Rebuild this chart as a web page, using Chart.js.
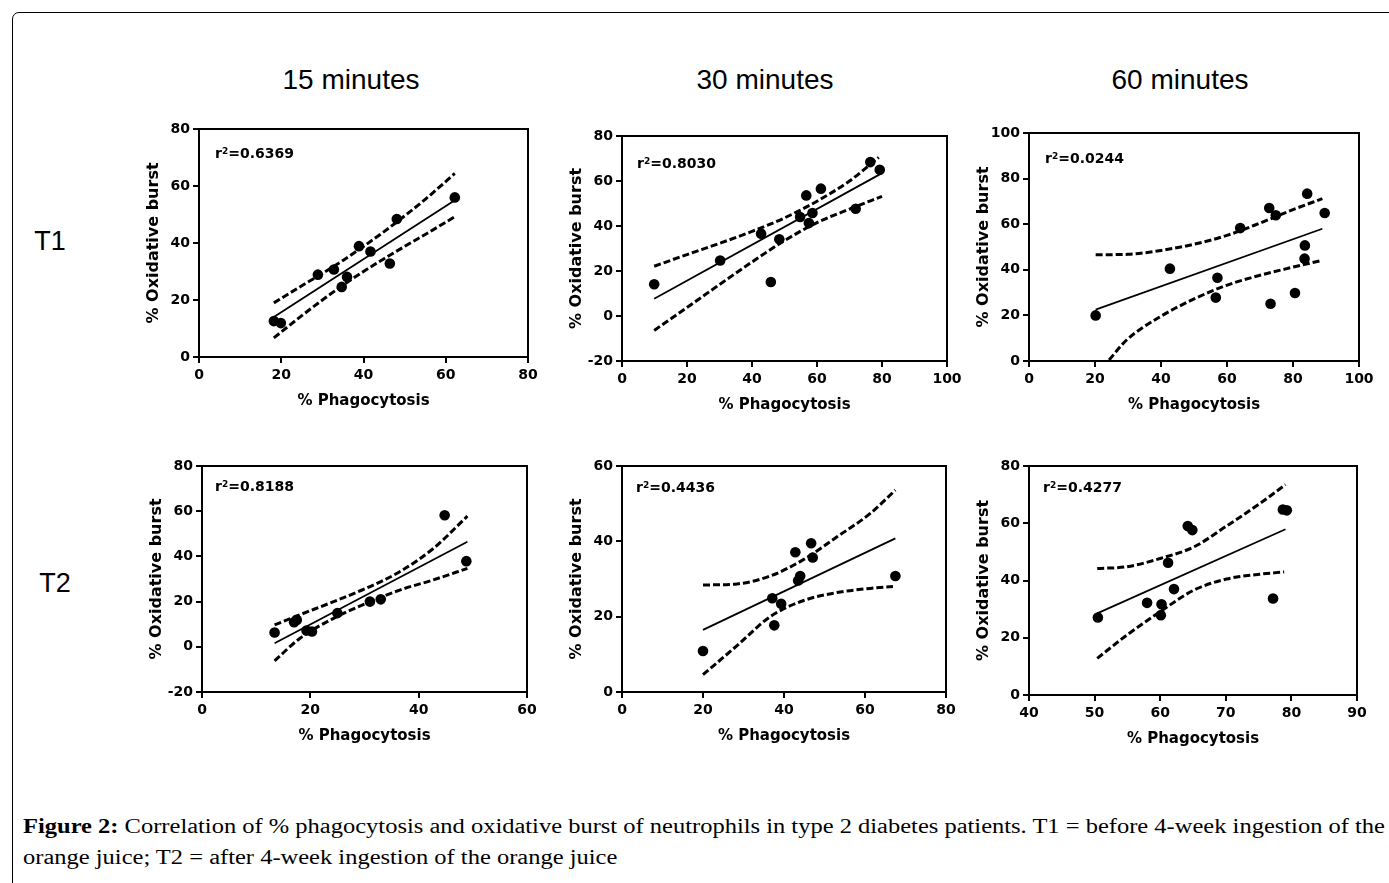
<!DOCTYPE html>
<html>
<head>
<meta charset="utf-8">
<script src="https://cdn.jsdelivr.net/npm/chart.js@4.4.1/dist/chart.umd.min.js"></script>
<style>
html,body{margin:0;padding:0;background:#fff;}
#page{position:relative;width:1389px;height:883px;overflow:hidden;background:#fff;}
#frame{position:absolute;left:12px;top:12px;width:1420px;height:920px;border:1.6px solid #000;border-radius:7px;box-sizing:border-box;}
.hdr{position:absolute;font-family:"Liberation Sans",Arial,sans-serif;font-size:28px;color:#000;transform:translate(-50%,-50%);white-space:nowrap;}
.r2{position:absolute;font-family:"DejaVu Sans",sans-serif;font-weight:bold;font-size:14px;color:#000;transform:translateY(-50%);white-space:nowrap;line-height:17px;}
.r2 sup{font-size:9px;position:relative;top:-2px;vertical-align:top;}
canvas{position:absolute;}
#cap{position:absolute;left:23px;top:811px;font-family:"Liberation Serif","Times New Roman",serif;font-size:20px;line-height:31px;color:#000;transform-origin:0 0;white-space:nowrap;}
#cap b{font-weight:bold;}
</style>
</head>
<body>
<div id="page">
  <div id="frame"></div>
  <div class="hdr" style="left:351px;top:80px;">15 minutes</div>
  <div class="hdr" style="left:765px;top:80px;">30 minutes</div>
  <div class="hdr" style="left:1180px;top:80px;">60 minutes</div>
  <div class="hdr" style="left:50px;top:241px;font-size:27px;">T1</div>
  <div class="hdr" style="left:55px;top:583px;font-size:27px;">T2</div>
  <div id="cap"><span id="cap1"><b>Figure 2:</b> Correlation of % phagocytosis and oxidative burst of neutrophils in type 2 diabetes patients. T1 = before 4-week ingestion of the</span><br><span>orange juice; T2 = after 4-week ingestion of the orange juice</span></div>
</div>
<script>
// ---------- DATA ----------
const columnTitles = ["15 minutes", "30 minutes", "60 minutes"];
const rowTitles = ["T1", "T2"];
const r2Labels = ["0.6369", "0.8030", "0.0244", "0.8188", "0.4436", "0.4277"];

// T1, 15 minutes
const t1m15X = [18.2, 19.9, 28.9, 32.8, 34.7, 36.0, 38.9, 41.7, 46.4, 48.1, 62.2];
const t1m15Y = [12.6, 11.9, 28.9, 30.7, 24.6, 28.1, 38.9, 37.0, 32.8, 48.4, 56.0];
const t1m15FitX = [18.2, 62.2];
const t1m15FitY = [14.0, 55.0];
const t1m15BandX = [18.2, 25, 30, 35, 40, 45, 50, 55, 62.2];
const t1m15UpY = [19.0, 25.0, 29.3, 33.9, 38.8, 44.0, 49.5, 55.3, 64.4];
const t1m15LoY = [6.7, 14.5, 20.0, 25.2, 30.0, 34.5, 38.8, 43.0, 49.2];

// T1, 30 minutes
const t1m30X = [9.9, 30.2, 42.8, 45.8, 48.4, 54.8, 56.7, 57.5, 58.6, 61.2, 71.9, 76.4, 79.3];
const t1m30Y = [14.1, 24.7, 36.6, 15.1, 34.1, 44.0, 53.6, 41.3, 45.8, 56.6, 47.7, 68.4, 65.0];
const t1m30FitX = [9.9, 80.0];
const t1m30FitY = [7.7, 63.5];
const t1m30UpX = [9.9, 20, 30, 40, 50, 60, 70, 79];
const t1m30UpY = [22.1, 27.3, 32.3, 37.6, 43.6, 51.0, 60.0, 70.5];
const t1m30LoX = [9.9, 20, 30, 40, 50, 60, 70, 80];
const t1m30LoY = [-6.4, 3.8, 14.0, 24.0, 33.5, 41.5, 47.5, 53.2];

// T1, 60 minutes
const t1m60X = [20.2, 42.7, 56.6, 57.1, 64.0, 72.8, 74.8, 73.2, 80.6, 83.5, 83.6, 84.3, 89.6];
const t1m60Y = [20.0, 40.5, 27.8, 36.5, 58.3, 67.1, 63.9, 25.1, 29.8, 44.9, 50.7, 73.4, 64.9];
const t1m60FitX = [20.2, 88.9];
const t1m60FitY = [22.5, 58.0];
const t1m60UpX = [20.2, 30, 40, 50, 60, 70, 80, 88.9];
const t1m60UpY = [46.6, 46.8, 48.5, 51.2, 55.1, 60.5, 66.4, 71.2];
const t1m60LoX = [20.2, 24, 29.5, 39.6, 49.7, 59.9, 70, 80.1, 88.9];
const t1m60LoY = [-6.0, 0.0, 9.1, 19.3, 27.0, 33.2, 37.6, 41.2, 44.2];

// T2, 15 minutes
const t2m15X = [13.4, 17.0, 17.5, 19.3, 20.3, 25.0, 31.0, 33.0, 44.8, 48.8];
const t2m15Y = [6.3, 10.9, 11.9, 7.2, 6.8, 14.9, 20.0, 21.0, 58.2, 37.9];
const t2m15FitX = [13.4, 49.0];
const t2m15FitY = [1.6, 46.5];
const t2m15BandX = [13.4, 18.1, 24.3, 30.4, 36.5, 42.7, 49.0];
const t2m15UpY = [9.7, 14.2, 20.0, 26.0, 33.2, 43.5, 57.8];
const t2m15LoY = [-6.2, 3.8, 12.6, 19.3, 25.1, 29.6, 34.7];

// T2, 30 minutes
const t2m30X = [20.0, 37.1, 37.6, 39.3, 42.8, 43.5, 44.0, 46.7, 47.1, 67.5];
const t2m30Y = [10.9, 24.9, 17.7, 23.4, 37.1, 29.6, 30.8, 39.5, 35.7, 30.8];
const t2m30FitX = [20.0, 67.5];
const t2m30FitY = [16.5, 40.8];
const t2m30UpX = [20.0, 28.4, 36.6, 44.9, 53.1, 61.3, 67.5];
const t2m30UpY = [28.4, 28.7, 30.8, 35.2, 41.2, 47.4, 53.6];
const t2m30LoX = [20.0, 28.4, 36.6, 44.9, 53.1, 61.3, 66.9];
const t2m30LoY = [4.6, 12.3, 20.0, 24.3, 26.4, 27.5, 28.0];

// T2, 60 minutes
const t2m60X = [50.5, 58.0, 60.1, 60.2, 61.2, 62.1, 64.2, 64.9, 77.2, 78.7, 79.3];
const t2m60Y = [27.1, 32.2, 27.9, 31.7, 46.2, 37.0, 59.0, 57.6, 33.7, 64.8, 64.5];
const t2m60FitX = [50.4, 79.1];
const t2m60FitY = [28.5, 57.9];
const t2m60UpX = [50.4, 54.9, 60.0, 65.1, 70.1, 75.2, 79.1];
const t2m60UpY = [44.2, 44.8, 47.7, 51.7, 59.0, 66.9, 73.5];
const t2m60LoX = [50.4, 54.9, 60.0, 65.1, 70.1, 75.2, 78.9];
const t2m60LoY = [12.8, 20.9, 29.1, 36.6, 40.5, 42.2, 43.0];

// axis ranges [min, max, step]
const xRanges = [[0, 80, 20], [0, 100, 20], [0, 100, 20], [0, 60, 20], [0, 80, 20], [40, 90, 10]];
const yRanges = [[0, 80, 20], [-20, 80, 20], [0, 100, 20], [-20, 80, 20], [0, 60, 20], [0, 80, 20]];
const xTitle = "% Phagocytosis";
const yTitle = "% Oxidative burst";

// ---------- LAYOUT ----------
const boxes = [
  {L:199, T:129, R:528, B:357, dx:16, dy:24},
  {L:622, T:136, R:947, B:361, dx:15, dy:27},
  {L:1029, T:133, R:1359, B:361, dx:16, dy:25},
  {L:202, T:466, R:527, B:692, dx:13, dy:20},
  {L:622, T:466, R:946, B:692, dx:14, dy:21},
  {L:1029, T:466, R:1357, B:695, dx:14, dy:21}
];
const YW = 62, PT = 15, PR = 24, XH = 58;

const pts = (xs, ys) => xs.map((x, i) => ({x: x, y: ys[i]}));

const panels = [
  {sx:t1m15X, sy:t1m15Y, fx:t1m15FitX, fy:t1m15FitY, ux:t1m15BandX, uy:t1m15UpY, lx:t1m15BandX, ly:t1m15LoY},
  {sx:t1m30X, sy:t1m30Y, fx:t1m30FitX, fy:t1m30FitY, ux:t1m30UpX, uy:t1m30UpY, lx:t1m30LoX, ly:t1m30LoY},
  {sx:t1m60X, sy:t1m60Y, fx:t1m60FitX, fy:t1m60FitY, ux:t1m60UpX, uy:t1m60UpY, lx:t1m60LoX, ly:t1m60LoY},
  {sx:t2m15X, sy:t2m15Y, fx:t2m15FitX, fy:t2m15FitY, ux:t2m15BandX, uy:t2m15UpY, lx:t2m15BandX, ly:t2m15LoY},
  {sx:t2m30X, sy:t2m30Y, fx:t2m30FitX, fy:t2m30FitY, ux:t2m30UpX, uy:t2m30UpY, lx:t2m30LoX, ly:t2m30LoY},
  {sx:t2m60X, sy:t2m60Y, fx:t2m60FitX, fy:t2m60FitY, ux:t2m60UpX, uy:t2m60UpY, lx:t2m60LoX, ly:t2m60LoY}
];

const framePlugin = {
  id: 'frameBox',
  afterDraw(chart) {
    const a = chart.chartArea, c = chart.ctx;
    c.save();
    c.strokeStyle = '#000';
    c.lineWidth = 2;
    c.strokeRect(a.left, a.top, a.right - a.left, a.bottom - a.top);
    c.restore();
  }
};

const tickFont = {family: '"DejaVu Sans", sans-serif', weight: 'bold', size: 14};
const page = document.getElementById('page');

panels.forEach((p, i) => {
  const b = boxes[i];
  const cv = document.createElement('canvas');
  const w = b.R - b.L + YW + PR, h = b.B - b.T + PT + XH;
  cv.width = w; cv.height = h;
  cv.style.left = (b.L - YW) + 'px';
  cv.style.top = (b.T - PT) + 'px';
  cv.style.width = w + 'px'; cv.style.height = h + 'px';
  page.appendChild(cv);

  const lbl = document.createElement('div');
  lbl.className = 'r2';
  lbl.style.left = (b.L + b.dx) + 'px';
  lbl.style.top = (b.T + b.dy) + 'px';
  lbl.innerHTML = 'r<sup>2</sup>=' + r2Labels[i];
  page.appendChild(lbl);

  const xr = xRanges[i], yr = yRanges[i];
  const axisCommon = {
    type: 'linear',
    grid: {display: true, drawOnChartArea: false, drawTicks: true, tickLength: 6, color: '#000', lineWidth: 2},
    border: {display: true, color: '#000', width: 2}
  };
  new Chart(cv, {
    type: 'scatter',
    data: {
      datasets: [
        {type: 'scatter', data: pts(p.sx, p.sy), pointRadius: 5.3, pointHoverRadius: 5.3, backgroundColor: '#000', borderColor: '#000', borderWidth: 0},
        {type: 'line', data: pts(p.fx, p.fy), borderColor: '#000', borderWidth: 1.8, pointRadius: 0, fill: false, tension: 0},
        {type: 'line', data: pts(p.ux, p.uy), borderColor: '#000', borderWidth: 3, borderDash: [7, 3], pointRadius: 0, fill: false, cubicInterpolationMode: 'monotone'},
        {type: 'line', data: pts(p.lx, p.ly), borderColor: '#000', borderWidth: 3, borderDash: [7, 3], pointRadius: 0, fill: false, cubicInterpolationMode: 'monotone'}
      ]
    },
    options: {
      responsive: false,
      animation: false,
      events: [],
      layout: {padding: {top: PT, right: PR, left: 0, bottom: 0}},
      plugins: {legend: {display: false}, tooltip: {enabled: false}},
      scales: {
        x: Object.assign({}, axisCommon, {
          position: 'bottom',
          min: xr[0], max: xr[1],
          ticks: {stepSize: xr[2], autoSkip: false, maxRotation: 0, color: '#000', font: tickFont, padding: 4},
          title: {display: true, text: xTitle, color: '#000', font: {family: '"DejaVu Sans", sans-serif', weight: 'bold', size: 15}, padding: {top: 0, bottom: 5}},
          afterFit: s => { s.height = XH; }
        }),
        y: Object.assign({}, axisCommon, {
          position: 'left',
          min: yr[0], max: yr[1],
          ticks: {stepSize: yr[2], autoSkip: false, color: '#000', font: tickFont, padding: 3},
          title: {display: true, text: yTitle, color: '#000', font: {family: '"DejaVu Sans", sans-serif', weight: 'bold', size: 16}, padding: {top: 7, bottom: 0}},
          afterFit: s => { s.width = YW; }
        })
      }
    },
    plugins: [framePlugin]
  });
});

// fit caption first line to the frame width
(function () {
  const cap = document.getElementById('cap');
  const w = document.getElementById('cap1').getBoundingClientRect().width;
  const target = 1385 - 23;
  if (w > 0) cap.style.transform = 'scaleX(' + (target / w) + ')';
})();
</script>
</body>
</html>
